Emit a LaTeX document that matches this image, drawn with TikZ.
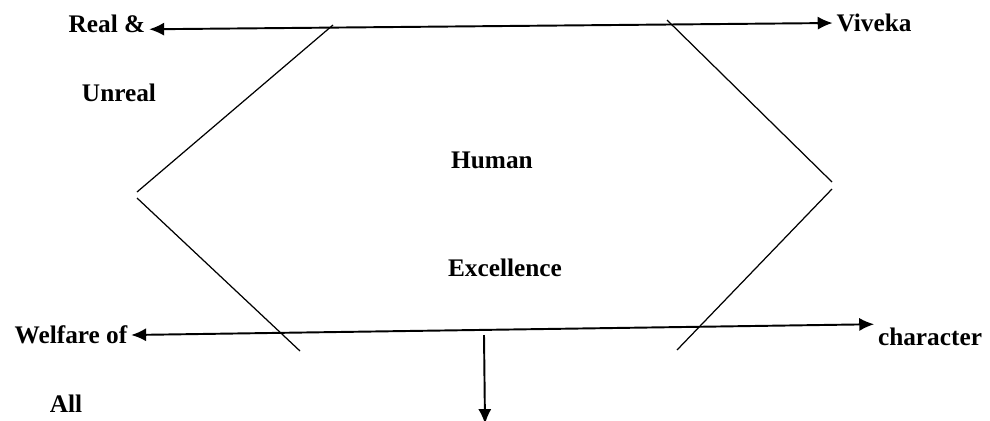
\documentclass[tikz,border=0pt]{standalone}
\usepackage{fontspec}
\setmainfont{Liberation Serif}
\usetikzlibrary{positioning,arrows.meta}

\begin{document}
\begin{tikzpicture}[x=0.02cm, y=-0.02cm, >={Latex[length=8.5pt,width=7.5pt]},
  lbl/.style={font=\fontsize{14.4}{17}\selectfont\bfseries, inner sep=2pt},
  side/.style={line width=0.7pt},
  link/.style={line width=1.1pt}]
\useasboundingbox (0,0) rectangle (990,420);
% labels
\node[lbl] (real) at (107,24) {Real \&};
\node[lbl] (unreal) at (119,93) {Unreal};
\node[lbl] (viveka) at (874,23) {Viveka};
\node[lbl] (human) at (492,160) {Human};
\node[lbl] (excel) at (505,268) {Excellence};
\node[lbl] (welfare) at (71,335) {Welfare of};
\node[lbl] (all) at (66,404) {All};
\node[lbl] (charac) at (930,337) {character};
\coordinate (drop) at (484,335);
\coordinate (down) at (485,424);
% the four open sides
\draw[side] (333,25) -- (137,192);
\draw[side] (137,198) -- (300,351);
\draw[side] (667,20) -- (832,182);
\draw[side] (832,189) -- (677,350);
% arrows
\draw[link, <->] ([yshift=-3pt]real.east) -- (viveka.west);
\draw[link, <->] (welfare.east) -- (charac.north west);
\draw[link, ->] (drop) -- (down);
\end{tikzpicture}
\end{document}
